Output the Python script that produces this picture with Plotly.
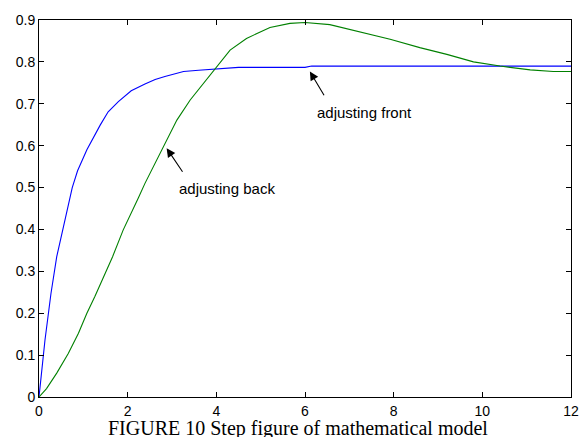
import plotly.graph_objects as go

# adjusting front (blue)
front_x = [0, 0.06, 0.135, 0.27, 0.40, 0.57, 0.75, 0.87, 1.08, 1.38, 1.56, 1.79, 2.08, 2.39,
           2.62, 2.84, 3.26, 3.6, 3.93, 4.5, 5.0, 6.0, 6.15, 7, 8, 9, 10, 11, 12]
front_y = [0, 0.057, 0.136, 0.247, 0.335, 0.415, 0.50, 0.54, 0.59, 0.649, 0.681, 0.705, 0.731, 0.747,
           0.758, 0.765, 0.777, 0.780, 0.783, 0.787, 0.787, 0.787, 0.790, 0.790, 0.790, 0.790, 0.790, 0.790, 0.790]

# adjusting back (green)
back_x = [0, 0.17, 0.40, 0.66, 0.89, 1.08, 1.26, 1.45, 1.66, 1.90, 2.09, 2.24, 2.39, 2.62, 2.84,
          3.11, 3.41, 3.71, 3.97, 4.31, 4.68, 5.21, 5.66, 6.0, 6.56, 7.24, 7.92, 8.59, 9.20, 9.80,
          10.4, 11.08, 11.6, 12]
back_y = [0, 0.02, 0.057, 0.104, 0.152, 0.2, 0.24, 0.287, 0.335, 0.399, 0.44, 0.475, 0.51, 0.558, 0.606,
          0.661, 0.709, 0.749, 0.785, 0.828, 0.856, 0.882, 0.892, 0.894, 0.889, 0.872, 0.854, 0.834, 0.818, 0.80,
          0.79, 0.781, 0.777, 0.777]

x_ticks = [0, 2, 4, 6, 8, 10, 12]
y_ticks = [0, 0.1, 0.2, 0.3, 0.4, 0.5, 0.6, 0.7, 0.8, 0.9]
y_tick_text = ["0", "0.1", "0.2", "0.3", "0.4", "0.5", "0.6", "0.7", "0.8", "0.9"]

title_text = "FIGURE 10 Step figure of mathematical model"
front_label = "adjusting front"
back_label = "adjusting back"

fig = go.Figure()
fig.add_trace(go.Scatter(x=front_x, y=front_y, mode="lines",
                         line=dict(color="#0000FF", width=1.1), showlegend=False))
fig.add_trace(go.Scatter(x=back_x, y=back_y, mode="lines",
                         line=dict(color="#008000", width=1.1), showlegend=False))

axis_common = dict(showline=True, linecolor="black", linewidth=1, mirror="ticks",
                   ticks="inside", ticklen=5, tickcolor="black", tickwidth=1,
                   showgrid=False, zeroline=False, automargin=False,
                   tickfont=dict(family="Arial, Liberation Sans", size=14, color="black"))

fig.update_layout(
    width=581, height=437,
    margin=dict(l=39, r=10, t=20, b=40),
    paper_bgcolor="white", plot_bgcolor="white",
    xaxis=dict(range=[0, 12], tickvals=x_ticks, ticklabelstandoff=1, **axis_common),
    yaxis=dict(range=[0, 0.9], tickvals=y_ticks, ticktext=y_tick_text, **axis_common),
)

arrow_style = dict(showarrow=True, arrowhead=2, arrowsize=1.6, arrowwidth=1.1,
                   arrowcolor="black", axref="x", ayref="y", xref="x", yref="y", text="")
fig.add_annotation(x=6.11, y=0.777, ax=6.45, ay=0.717, **arrow_style)
fig.add_annotation(x=2.88, y=0.594, ax=3.26, ay=0.534, **arrow_style)

lab_font = dict(family="Arial, Liberation Sans", size=15, color="black")
fig.add_annotation(x=7.35, y=0.679, xref="x", yref="y", text=front_label, showarrow=False, font=lab_font)
fig.add_annotation(x=4.23, y=0.498, xref="x", yref="y", text=back_label, showarrow=False, font=lab_font)

fig.add_annotation(x=0.487, y=0, xref="paper", yref="paper", yshift=-31, yanchor="middle",
                   text=title_text, showarrow=False,
                   font=dict(family="Times New Roman, Liberation Serif", size=20, color="black"))

fig.write_html("out.html", config={"displayModeBar": False},
               post_script="document.body.style.margin='0';document.body.style.overflow='hidden';")
